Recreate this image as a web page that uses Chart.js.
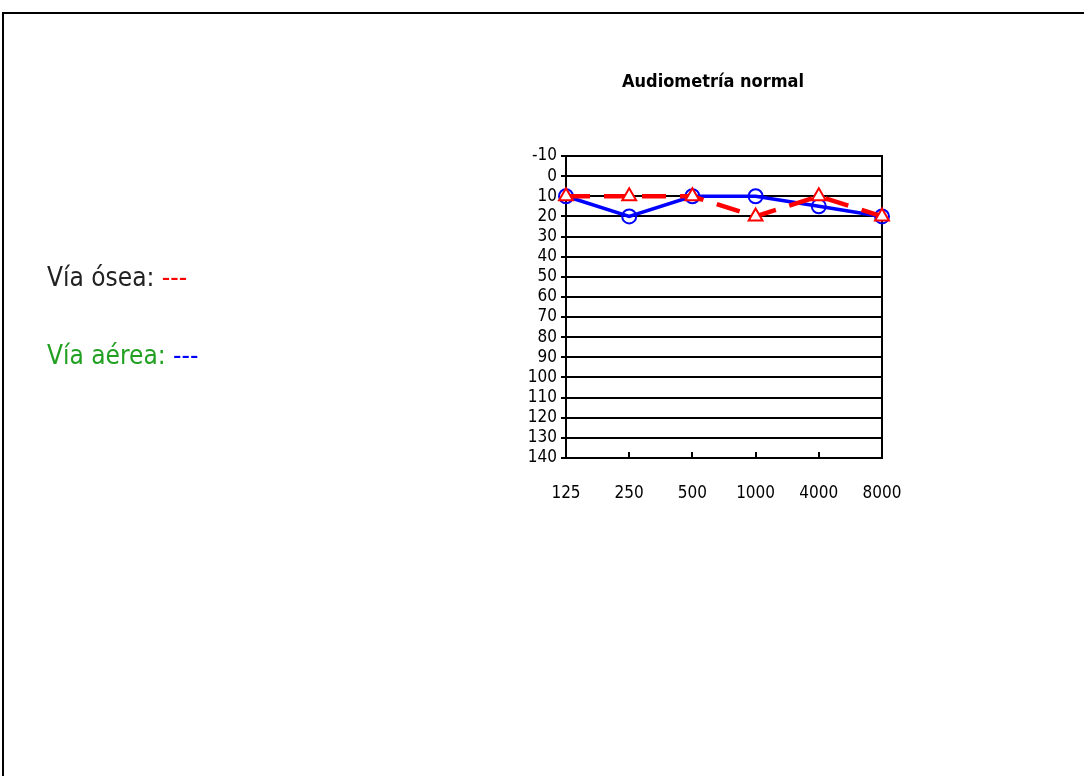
<!DOCTYPE html>
<html>
<head>
<meta charset="utf-8">
<script src="https://cdn.jsdelivr.net/npm/chart.js@4/dist/chart.umd.min.js"></script>
<style>
  html, body { margin: 0; padding: 0; background: #fff; }
  body { width: 1084px; height: 776px; position: relative; overflow: hidden; }
  #frame {
    position: absolute; left: 2px; top: 12px; width: 1100px; height: 800px;
    border-top: 2px solid #000; border-left: 2px solid #000;
  }
  #audio { position: absolute; left: 0; top: 0; }
  .key {
    position: absolute; left: 47px;
    font-family: "DejaVu Sans Condensed", "DejaVu Sans", sans-serif;
    font-size: 26px; line-height: 1;
  }
  #bone { top: 264px; color: #222; }
  #air { top: 342px; color: #22a022; }
  .red { color: #ff0000; }
  .blue { color: #0000ff; }
</style>
</head>
<body>
<div id="frame"></div>
<canvas id="audio" width="1084" height="776"></canvas>
<div class="key" id="bone">Vía ósea: <span class="red">---</span></div>
<div class="key" id="air">Vía aérea: <span class="blue">---</span></div>
<script>
const frequencies = ["125", "250", "500", "1000", "4000", "8000"]
const boneValues = [10, 10, 10, 20, 10, 20]
const airValues = [10, 20, 10, 10, 15, 20]
const dbMin = -10
const dbMax = 140
const chartTitle = "Audiometría normal"

const narrow = "'DejaVu Sans Condensed', 'DejaVu Sans', sans-serif"

// box around the plot, small inward ticks on the frequency axis, and the title
const plotFrame = {
  id: 'plotFrame',
  beforeDatasetsDraw(chart) {
    const { ctx, chartArea: a } = chart
    const x = chart.scales.x
    ctx.save()
    ctx.strokeStyle = "#000"
    ctx.lineWidth = 2
    ctx.strokeRect(a.left, a.top, a.right - a.left, a.bottom - a.top)
    ctx.beginPath()
    for (let i = 1; i < frequencies.length - 1; i++) {
      const px = Math.round(x.getPixelForTick(i))
      ctx.moveTo(px, a.bottom)
      ctx.lineTo(px, a.bottom - 6)
    }
    ctx.stroke()

    ctx.fillStyle = "#000"
    ctx.font = "bold 18px " + narrow
    ctx.textAlign = "center"
    ctx.textBaseline = "middle"
    ctx.fillText(chartTitle, (a.left + a.right) / 2 - 11, 82)
    ctx.restore()
  }
}

new Chart(document.getElementById("audio"), {
  type: "line",
  data: {
    labels: frequencies,
    datasets: [
      {
        label: "Vía ósea",
        data: boneValues,
        borderColor: "#ff0000",
        borderWidth: 4.5,
        borderDash: [24, 14],
        pointStyle: "triangle",
        pointRadius: 8,
        pointBorderWidth: 2,
        pointBorderColor: "#ff0000",
        pointBackgroundColor: "#fff",
        tension: 0,
        order: 0
      },
      {
        label: "Vía aérea",
        data: airValues,
        borderColor: "#0000ff",
        borderWidth: 3.5,
        pointStyle: "circle",
        pointRadius: 7,
        pointBorderWidth: 2,
        pointBorderColor: "#0000ff",
        pointBackgroundColor: "rgba(255,255,255,0)",
        tension: 0,
        order: 1
      }
    ]
  },
  options: {
    responsive: false,
    animation: false,
    events: [],
    layout: {
      padding: { left: 516, right: 202, top: 156, bottom: 0 }
    },
    scales: {
      x: {
        grid: { display: false },
        border: { display: false },
        ticks: {
          color: "#000",
          padding: 17,
          maxRotation: 0,
          autoSkip: false,
          font: { family: narrow, size: 17 }
        },
        afterFit(scale) { scale.height = 318 }
      },
      y: {
        reverse: true,
        min: dbMin,
        max: dbMax,
        grid: { color: "#000", lineWidth: 2, tickLength: 5 },
        border: { display: false },
        ticks: {
          stepSize: 10,
          autoSkip: false,
          color: "#000",
          padding: 4,
          font: { family: narrow, size: 17 }
        },
        afterFit(scale) { scale.width = 50 }
      }
    },
    plugins: {
      legend: { display: false },
      tooltip: { enabled: false },
      title: { display: false }
    }
  },
  plugins: [plotFrame]
})
</script>
</body>
</html>
